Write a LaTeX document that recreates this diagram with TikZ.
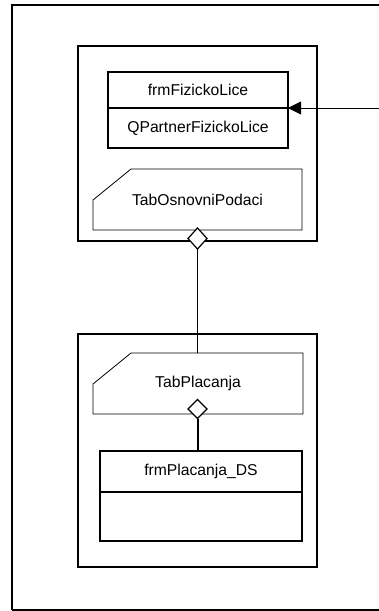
\documentclass[tikz,border=0pt]{standalone}
\usepackage{fontspec}
\setmainfont{Liberation Sans}
\usetikzlibrary{arrows.meta,shapes.geometric}
\begin{document}
\begin{tikzpicture}[x=1pt,y=-1pt,
  every node/.style={font=\fontsize{15.7}{18}\selectfont, inner sep=0pt, outer sep=0pt},
  container/.style={draw, line width=1.5pt, anchor=north west},
  part/.style={draw, line width=1.3pt, anchor=north west},
  tabbox/.style={anchor=north west},
  agg/.style={diamond, draw, fill=white, line width=1.2pt, inner sep=0pt},
  conn/.style={line width=0.8pt}]
\useasboundingbox (0,0) rectangle (379,611);
% outer frame (right side runs off the picture)
\draw[line width=1.5pt] (12,610) -- (12,5) -- (395,5);
\draw[line width=1.5pt] (12,610) -- (395,610);
% upper container
\node[container, minimum width=239pt, minimum height=195pt] (cont1) at (78,46) {};
\node[part, minimum width=180pt, minimum height=36pt] (frm1) at (108,72) {};
\node at (frm1.center) {frmFizickoLice};
\node[part, minimum width=180pt, minimum height=40pt] (qp1) at (108,108) {};
\node at (qp1.center) {QPartnerFizickoLice};
\node[tabbox, minimum width=209pt, minimum height=61pt] (tab1) at (93,169) {TabOsnovniPodaci};
\draw[line width=0.8pt] ([xshift=38pt]tab1.north west) -- (tab1.north east) -- (tab1.south east) -- (tab1.south west) -- ([yshift=-31pt]tab1.north west) -- cycle;
\coordinate (src) at (380,108);
\draw[conn, -{Triangle[length=13pt,width=13pt]}] (src) -- (frm1.south east);
\node[agg, minimum width=19pt, minimum height=21pt] (dia1) at (197.5,238.5) {};
% lower container
\node[container, minimum width=239pt, minimum height=233pt] (cont2) at (78,334) {};
\node[tabbox, minimum width=210pt, minimum height=61pt] (tab2) at (93,353) {TabPlacanja};
\draw[line width=0.8pt] ([xshift=38pt]tab2.north west) -- (tab2.north east) -- (tab2.south east) -- (tab2.south west) -- ([yshift=-31pt]tab2.north west) -- cycle;
\node[agg, minimum width=19pt, minimum height=19pt] (dia2) at (197.5,409) {};
\node[part, minimum width=202pt, minimum height=41pt] (frm2) at (100,451) {};
\node at (frm2.center) {frmPlacanja\_DS};
\node[part, minimum width=202pt, minimum height=49pt] (frm2b) at (100,492) {};
% connectors
\draw[conn] (dia1.south) -- (tab2.north -| dia1.south);
\draw[line width=2pt] (dia2.south) -- (frm2.north -| dia2.south);
\end{tikzpicture}
\end{document}
